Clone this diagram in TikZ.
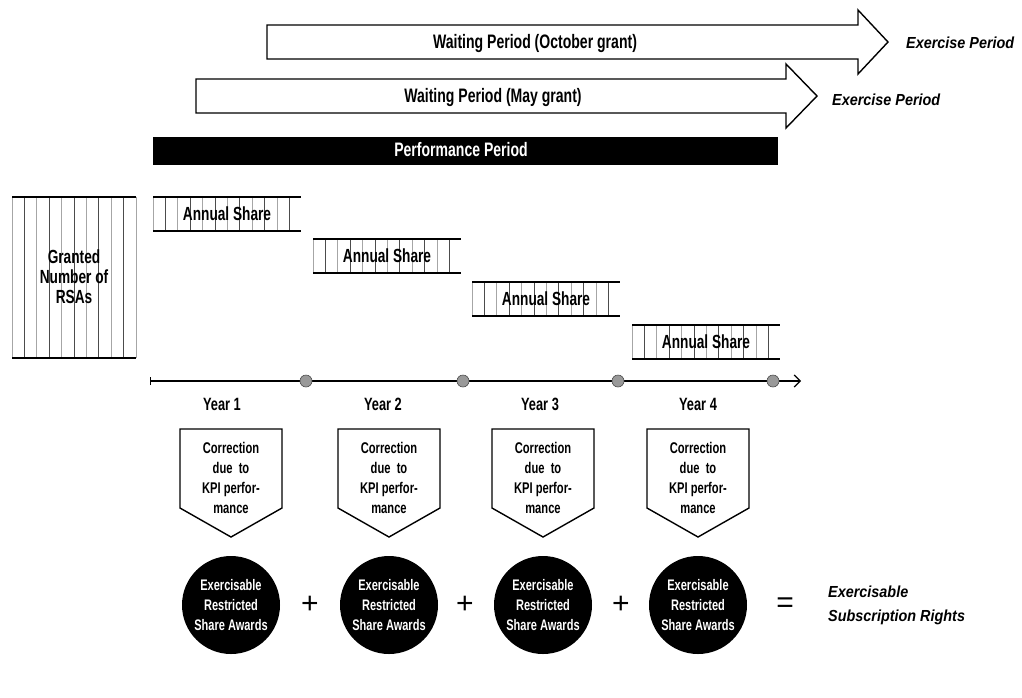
\documentclass[tikz,border=0pt]{standalone}
\usepackage{fontspec}
\setmainfont[FakeStretch=0.72]{Liberation Sans}
\newfontfamily\exfont[FakeStretch=0.9]{Liberation Sans}
\newfontfamily\symfont{Liberation Sans}
\usetikzlibrary{arrows.meta}
\begin{document}
\begin{tikzpicture}[x=1pt,y=-1pt,
  every node/.style={inner sep=0pt, font=\bfseries},
  arrowbox/.style={draw=black, line width=1.4pt, fill=white, line join=miter},
  headtext/.style={font=\fontsize{19.5}{20}\selectfont\bfseries},
  extext/.style={anchor=west, font=\exfont\fontsize{16}{24}\selectfont\bfseries\itshape, align=left},
  sharetext/.style={font=\fontsize{19}{20}\selectfont\bfseries, align=center},
  yeartext/.style={font=\fontsize{17.8}{20}\selectfont\bfseries},
  smalltext/.style={font=\fontsize{15.5}{20}\selectfont\bfseries, align=center},
  pent/.style={draw=black, line width=1.4pt, fill=white},
  award/.style={circle, fill=black, minimum size=98pt, text=white, font=\fontsize{15.3}{20}\selectfont\bfseries, align=center},
  hatchA/.style={draw=black!35, line width=0.7pt},
  hatchB/.style={draw=black!70, line width=0.7pt},
  rule/.style={draw=black, line width=2.6pt},
  dot/.style={circle, draw=black!70, line width=0.6pt, fill=black!40, minimum size=12pt},
  opsym/.style={font=\symfont\fontsize{30}{30}\selectfont}
]
\useasboundingbox (0,0) rectangle (1022,697);

% Waiting period arrows
\draw[arrowbox] (267,25) -- (858,25) -- (858,10) -- (888,42) -- (858,74) -- (858,59) -- (267,59) -- cycle;
\node[headtext] (oct) at (535,43) {Waiting Period (October grant)};
\node[extext] (exoct) at (906,43) {Exercise Period};

\draw[arrowbox] (196,79) -- (786,79) -- (786,64) -- (817,96) -- (786,128) -- (786,113) -- (196,113) -- cycle;
\node[headtext] (may) at (493,97) {Waiting Period (May grant)};
\node[extext] (exmay) at (832,100) {Exercise Period};

% Performance period
\fill[black] (153,137) rectangle (778,165);
\node[headtext, text=white] (perf) at (461,150) {Performance Period};

% Granted number box
\foreach \i in {0,...,10} {
  \pgfmathsetmacro{\xx}{12+\i*12.4}
  \ifodd\i \draw[hatchB] (\xx,197) -- (\xx,358); \else \draw[hatchA] (\xx,197) -- (\xx,358); \fi
}
\draw[rule] (12,197) -- (136,197);
\draw[rule] (12,358) -- (136,358);
\node[sharetext] (granted) at (74,277) {Granted\\Number of\\RSAs};

% Annual share boxes
\foreach \n/\x/\y in {1/153/197, 2/313/239, 3/472/282, 4/632/325} {
  \foreach \i in {0,...,11} {
    \pgfmathsetmacro{\xx}{\x+\i*12.4}
    \ifodd\i \draw[hatchB] (\xx,\y) -- (\xx,\y+34); \else \draw[hatchA] (\xx,\y) -- (\xx,\y+34); \fi
  }
  \draw[rule] (\x,\y) -- (\x+148,\y);
  \draw[rule] (\x,\y+34) -- (\x+148,\y+34);
  \node[sharetext] (share\n) at (\x+74,\y+17) {Annual Share};
}

% Timeline
\coordinate (tstart) at (150,381);
\coordinate (tend) at (801,381);
\draw[line width=1.2pt, {Bar[width=8pt]}-{Straight Barb[length=6pt,width=12pt,line width=1.2pt]}] (tstart) -- (tend);
\foreach \n/\x in {1/306, 2/463, 3/618, 4/773} {
  \node[dot] (d\n) at (\x,381) {};
}

% Years, corrections, awards
\foreach \n/\x in {1/231, 2/389, 3/543, 4/698} {
  \node[yeartext] (year\n) at (\x-12+\n*3,404) {Year \n};
  \draw[pent] (\x-51,429) -- (\x+51,429) -- (\x+51,508) -- (\x,537) -- (\x-51,508) -- cycle;
  \node[smalltext] (corr\n) at (\x,478) {Correction\\due~~to\\KPI perfor-\\mance};
  \node[award] (award\n) at (\x,605) {Exercisable\\Restricted\\Share Awards};
}
\node[opsym] (plus1) at (310,605) {+};
\node[opsym] (plus2) at (465,605) {+};
\node[opsym] (plus3) at (621,605) {+};
\node[opsym] (eq) at (785,605) {=};
\node[extext] (result) at (828,605) {Exercisable\\Subscription Rights};
\end{tikzpicture}
\end{document}
